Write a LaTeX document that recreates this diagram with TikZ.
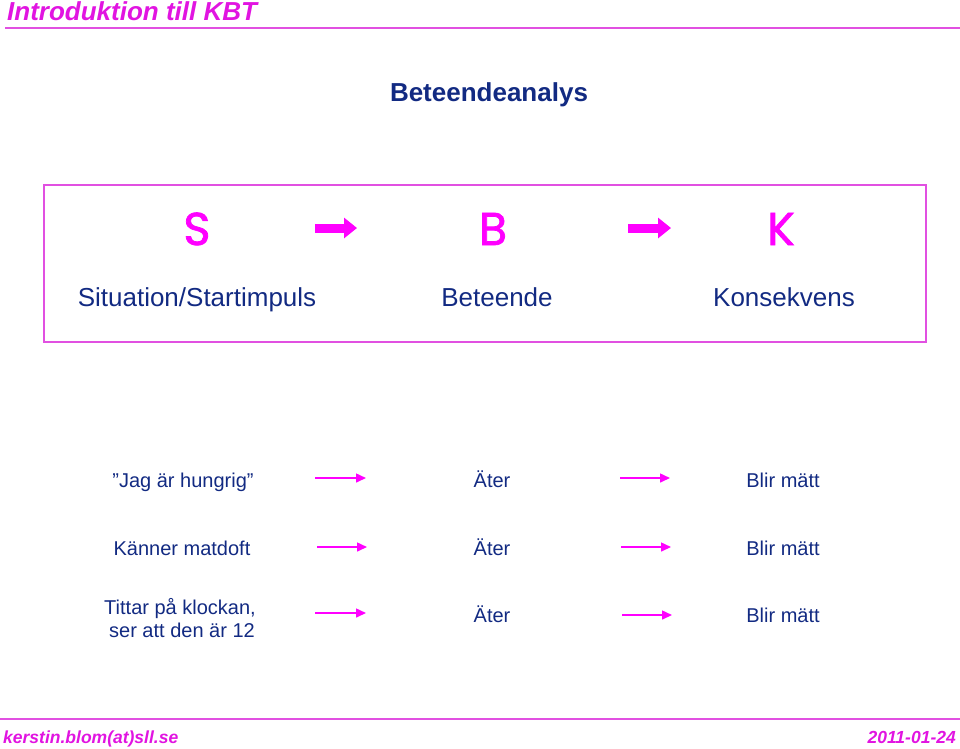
\documentclass[tikz,border=0pt]{standalone}
\usepackage{fontspec}
\setmainfont{Liberation Sans}
\newfontfamily\comicfont[FakeBold=1.6]{Poppins}
\usetikzlibrary{arrows.meta}
\definecolor{navy}{RGB}{18,42,130}
\definecolor{mag}{RGB}{255,0,255}
\definecolor{titlemag}{RGB}{225,20,225}
\definecolor{linemag}{RGB}{225,80,225}
\tikzset{
  txt/.style={text=navy,font=\fontsize{20}{24}\selectfont,inner sep=0pt,align=center},
  bigtxt/.style={text=navy,font=\fontsize{26}{30}\selectfont,inner sep=0pt},
  letter/.style={text=mag,font=\comicfont\fontsize{46}{54}\selectfont,inner sep=0pt},
  thinarrow/.style={draw=mag,line width=1.5pt,-{Triangle[length=10pt,width=9pt]}},
  thickarrow/.style={draw=mag,line width=9pt,-{Triangle[length=13pt,width=20pt]}},
  foot/.style={text=titlemag,font=\bfseries\itshape\fontsize{17.5}{20}\selectfont,inner sep=0pt},
}
\begin{document}
\begin{tikzpicture}[x=1pt,y=-1pt]
\useasboundingbox (0,0) rectangle (960,748);
% header
\node[anchor=base west,text=titlemag,font=\bfseries\itshape\fontsize{26}{30}\selectfont,inner sep=0pt] (title) at (7,20) {Introduktion till KBT};
\coordinate (hl) at (5,28);
\coordinate (hr) at (960,28);
\draw[linemag,line width=2pt] (hl) -- (hr);
\node[anchor=base,text=navy,font=\bfseries\fontsize{26}{30}\selectfont,inner sep=0pt] (head) at (489,101) {Beteendeanalys};
% box
\node[draw=linemag,line width=2pt,minimum width=882pt,minimum height=157pt,inner sep=0pt] (box) at (485,263.5) {};
\node[letter,anchor=base] (S) at (197,245) {S};
\node[letter,anchor=base] (B) at (493,245) {B};
\node[letter,anchor=base] (K) at (781,245) {K};
\coordinate (a1s) at (315,228); \coordinate (a1e) at (357,228);
\coordinate (a2s) at (628,228); \coordinate (a2e) at (671,228);
\draw[thickarrow] (a1s) -- (a1e);
\draw[thickarrow] (a2s) -- (a2e);
\node[bigtxt,anchor=base] (Sl) at (197,306) {Situation/Startimpuls};
\node[bigtxt,anchor=base] (Bl) at (497,306) {Beteende};
\node[bigtxt,anchor=base] (Kl) at (784,306) {Konsekvens};
% rows
\node[txt,anchor=base] (r1a) at (183,487) {”Jag är hungrig”};
\node[txt,anchor=base] (r1b) at (492,487) {Äter};
\node[txt,anchor=base] (r1c) at (783,487) {Blir mätt};
\node[txt,anchor=base] (r2a) at (182,555) {Känner matdoft};
\node[txt,anchor=base] (r2b) at (492,555) {Äter};
\node[txt,anchor=base] (r2c) at (783,555) {Blir mätt};
\node[txt,anchor=base] (r3a1) at (180,614) {Tittar på klockan,};
\node[txt,anchor=base] (r3a2) at (182,637) {ser att den är 12};
\node[txt,anchor=base] (r3b) at (492,622) {Äter};
\node[txt,anchor=base] (r3c) at (783,622) {Blir mätt};
\coordinate (p1s) at (315,478); \coordinate (p1e) at (366,478);
\coordinate (q1s) at (620,478); \coordinate (q1e) at (670,478);
\coordinate (p2s) at (317,547); \coordinate (p2e) at (367,547);
\coordinate (q2s) at (621,547); \coordinate (q2e) at (671,547);
\coordinate (p3s) at (315,613); \coordinate (p3e) at (366,613);
\coordinate (q3s) at (622,615); \coordinate (q3e) at (672,615);
\draw[thinarrow] (p1s) -- (p1e);
\draw[thinarrow] (q1s) -- (q1e);
\draw[thinarrow] (p2s) -- (p2e);
\draw[thinarrow] (q2s) -- (q2e);
\draw[thinarrow] (p3s) -- (p3e);
\draw[thinarrow] (q3s) -- (q3e);
% footer
\coordinate (fl) at (0,719);
\coordinate (fr) at (960,719);
\draw[linemag,line width=2pt] (fl) -- (fr);
\node[foot,anchor=base west] (mail) at (3,743) {kerstin.blom(at)sll.se};
\node[foot,anchor=base east] (date) at (956,743) {2011-01-24};
\end{tikzpicture}
\end{document}
